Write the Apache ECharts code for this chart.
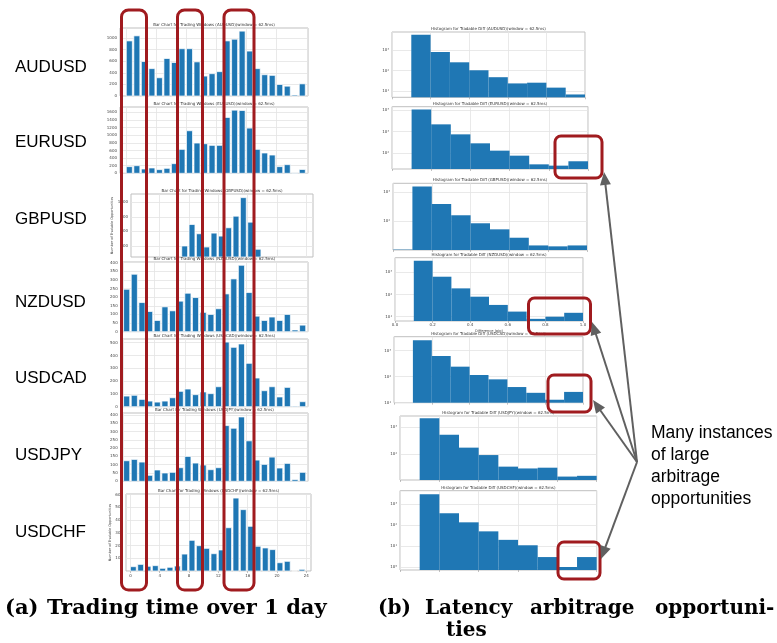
<!DOCTYPE html>
<html>
<head>
<meta charset="utf-8">
<script src="https://cdn.jsdelivr.net/npm/echarts@6/dist/echarts.min.js"></script>
<style>
  html, body { margin: 0; padding: 0; background: #ffffff; }
  #chart { width: 777px; height: 643px; }
</style>
</head>
<body>
<div id="chart"></div>
<script>
// ---- data ---------------------------------------------------------------
const PAIRS = ['AUDUSD', 'EURUSD', 'GBPUSD', 'NZDUSD', 'USDCAD', 'USDJPY', 'USDCHF'];
const HOURS = [0, 1, 2, 3, 4, 5, 6, 7, 8, 9, 10, 11, 12, 13, 14, 15, 16, 17, 18, 19, 20, 21, 22, 23];
const HOUR_TICKS = [0, 4, 8, 12, 16, 20, 24];

// tradable windows per hour of the day
const AUDUSD_HOURLY = [948, 1035, 593, 471, 314, 645, 576, 814, 814, 587, 343, 384, 419, 948, 977, 1116, 773, 471, 366, 355, 198, 169, 17, 209];
const EURUSD_HOURLY = [175, 200, 113, 140, 96, 131, 253, 629, 1118, 795, 777, 734, 734, 1467, 1659, 1650, 1188, 629, 533, 480, 175, 227, 10, 100];
const GBPUSD_HOURLY = [null, null, null, null, null, null, null, 400, 695, 568, 386, 577, 536, 650, 809, 1064, 727, 355, null, null, null, null, null, null];
const NZDUSD_HOURLY = [246, 333, 169, 117, 65, 144, 121, 177, 223, 198, 112, 100, 133, 219, 306, 385, 227, 90, 65, 85, 65, 100, 10, 38];
const USDCAD_HOURLY = [83, 89, 57, 44, 36, 44, 70, 120, 138, 94, 115, 102, 156, 505, 464, 490, 339, 224, 125, 156, 76, 151, 5, 39];
const USDJPY_HOURLY = [124, 132, 116, 36, 68, 50, 54, 82, 150, 110, 98, 70, 82, 336, 320, 388, 244, 128, 102, 146, 80, 108, 10, 54];
const USDCHF_HOURLY = [34, 52, 37, 42, 21, 29, 39, 133, 241, 199, 178, 136, 165, 340, 573, 482, 351, 194, 181, 168, 65, 76, 0, 13];

// histogram of tradable price differences (pip), bins of 0.1
const BIN_EDGES = [0.0, 0.1, 0.2, 0.3, 0.4, 0.5, 0.6, 0.7, 0.8, 0.9, 1.0];
const AUDUSD_DIFF = [null, 5520, 800, 253, 104, 48, 24, 26, 15, 7];
const EURUSD_DIFF = [null, 10700, 2180, 753, 290, 133, 78, 31, 27, 43];
const GBPUSD_DIFF = [10, 1580, 392, 158, 83, 51, 26, 14, 13, 14];
const NZDUSD_DIFF = [null, 3360, 638, 190, 80, 34, 17, 8, 10, 15];
const USDCAD_DIFF = [null, 2500, 624, 243, 116, 79, 40, 24, 13, 26];
const USDJPY_DIFF = [null, 2150, 535, 177, 94, 35, 30, 32, 15, 16];
const USDCHF_DIFF = [null, 3010, 371, 138, 51, 20, 11, 3, 1, 3];

// ---- layout & style -----------------------------------------------------
const BLUE = '#1f77b4';
const FRAME = '#bfbfbf';
const GRIDLINE = '#e3e3e3';
const RED = '#a01b1f';
const ARROW = '#606060';
const TINY = 'DejaVu Sans';
const BAR_W = 0.8;

const BAR_PANELS = [
  { pair: 'AUDUSD', values: AUDUSD_HOURLY, box: [120, 28, 308, 96], x: [-0.84, 24.16], y: [0, 1170], ticks: [0, 200, 400, 600, 800, 1000] },
  { pair: 'EURUSD', values: EURUSD_HOURLY, box: [120, 107, 308, 173.3], x: [-0.84, 24.16], y: [0, 1742], ticks: [0, 200, 400, 600, 800, 1000, 1200, 1400, 1600] },
  { pair: 'GBPUSD', values: GBPUSD_HOURLY, box: [131, 194, 313, 257], x: [0.08, 24.9], y: [249, 1114], ticks: [400, 600, 800, 1000], yName: true },
  { pair: 'NZDUSD', values: NZDUSD_HOURLY, box: [120.7, 262, 308, 331.7], x: [-0.38, 24.1], y: [0, 404], ticks: [0, 50, 100, 150, 200, 250, 300, 350, 400] },
  { pair: 'USDCAD', values: USDCAD_HOURLY, box: [120.7, 339, 308, 406.7], x: [-0.38, 24.1], y: [0, 529], ticks: [0, 100, 200, 300, 400, 500] },
  { pair: 'USDJPY', values: USDJPY_HOURLY, box: [120.7, 413, 308, 481.3], x: [-0.38, 24.1], y: [0, 412], ticks: [0, 50, 100, 150, 200, 250, 300, 350, 400] },
  { pair: 'USDCHF', values: USDCHF_HOURLY, box: [126, 494, 311, 571], x: [-0.6, 24.64], y: [0, 605], ticks: [0, 100, 200, 300, 400, 500, 600], yName: true, xLabels: true }
];

const HIST_PANELS = [
  { pair: 'AUDUSD', counts: AUDUSD_DIFF, box: [392, 32, 585, 97.3], y: [5.1, 7430], ticks: [10, 100, 1000] },
  { pair: 'EURUSD', counts: EURUSD_DIFF, box: [392, 106.7, 588, 169], y: [18.9, 14250], ticks: [100, 1000, 10000] },
  { pair: 'GBPUSD', counts: GBPUSD_DIFF, box: [393, 183.3, 587, 250], y: [9.7, 2060], ticks: [100, 1000] },
  { pair: 'NZDUSD', counts: NZDUSD_DIFF, box: [395, 257.7, 583, 321], y: [6.4, 4600], ticks: [10, 100, 1000], xLabels: true },
  { pair: 'USDCAD', counts: USDCAD_DIFF, box: [394, 336.7, 583, 402.7], y: [10, 3450], ticks: [10, 100, 1000] },
  { pair: 'USDJPY', counts: USDJPY_DIFF, box: [400, 416, 596.7, 480], y: [11.2, 2630], ticks: [100, 1000] },
  { pair: 'USDCHF', counts: USDCHF_DIFF, box: [400, 490.7, 596.7, 570], y: [0.72, 4510], ticks: [1, 10, 100, 1000] }
];

const ROW_LABEL_Y = [67, 142, 219, 302, 378, 455, 532];

// ---- helpers ------------------------------------------------------------
const SUP = { '-': '\u207b', '0': '\u2070', '1': '\u00b9', '2': '\u00b2', '3': '\u00b3', '4': '\u2074', '5': '\u2075' };
function powerLabel(v) {
  const e = String(Math.round(Math.log10(v)));
  return '10' + e.split('').map(c => SUP[c]).join('');
}

function gridOf(box) {
  return {
    left: box[0], top: box[1], width: box[2] - box[0], height: box[3] - box[1],
    show: true, borderColor: FRAME, borderWidth: 1, backgroundColor: '#ffffff',
    containLabel: false, outerBoundsMode: 'none'
  };
}

// hourly bar: left edge at the hour, width BAR_W, clipped to the plot
function renderHourBar(params, api) {
  const h = api.value(0);
  const v = api.value(1);
  const topLeft = api.coord([h, v]);
  const bottomRight = api.coord([h + BAR_W, 0]);
  const cs = params.coordSys;
  const shape = echarts.graphic.clipRectByRect(
    { x: topLeft[0], y: topLeft[1], width: bottomRight[0] - topLeft[0], height: bottomRight[1] - topLeft[1] },
    { x: cs.x, y: cs.y, width: cs.width, height: cs.height }
  );
  if (!shape) return null;
  return { type: 'rect', shape: shape, style: { fill: BLUE, stroke: '#ffffff', lineWidth: 0.7 } };
}

// histogram bin from its two edges down to the bottom of the plot
function renderBin(params, api) {
  const lo = api.value(0);
  const hi = api.value(1);
  const n = api.value(2);
  const cs = params.coordSys;
  const a = api.coord([lo, n]);
  const b = api.coord([hi, n]);
  const bottom = cs.y + cs.height;
  return { type: 'rect', shape: { x: a[0], y: a[1], width: b[0] - a[0], height: bottom - a[1] }, style: { fill: BLUE } };
}

function tinyText(text, x, y, size, align) {
  return {
    type: 'text', z: 50, x: x, y: y,
    style: { text: text, font: size + 'px "' + TINY + '"', fill: '#333333', align: align || 'center', textAlign: align || 'center', verticalAlign: 'middle', textVerticalAlign: 'middle' }
  };
}

function bigText(text, x, y, font, align) {
  return {
    type: 'text', z: 60, x: x, y: y,
    style: { text: text, font: font, fill: '#000000', align: align || 'left', textAlign: align || 'left', verticalAlign: 'middle', textVerticalAlign: 'middle' }
  };
}

function redBox(x, y, w, h, r) {
  return { type: 'rect', z: 80, shape: { x: x, y: y, width: w, height: h, r: r }, style: { fill: 'none', stroke: RED, lineWidth: 3 } };
}

function arrow(from, to) {
  const dx = to[0] - from[0], dy = to[1] - from[1];
  const len = Math.hypot(dx, dy);
  const ux = dx / len, uy = dy / len;
  const headL = 13, headW = 5.5;
  const bx = to[0] - ux * headL, by = to[1] - uy * headL;
  return [
    { type: 'line', z: 90, shape: { x1: from[0], y1: from[1], x2: bx + ux * 2, y2: by + uy * 2 }, style: { stroke: ARROW, lineWidth: 2 } },
    { type: 'polygon', z: 90, shape: { points: [[to[0], to[1]], [bx - uy * headW, by + ux * headW], [bx + uy * headW, by - ux * headW]] }, style: { fill: ARROW } }
  ];
}

const plainNumber = v => String(v);

// ---- option -------------------------------------------------------------
const option = { animation: false, grid: [], xAxis: [], yAxis: [], series: [], graphic: [] };
const graphics = [];

BAR_PANELS.forEach((p, i) => {
  option.grid.push(gridOf(p.box));
  option.xAxis.push({
    type: 'value', gridIndex: i, min: p.x[0], max: p.x[1],
    axisLine: { show: false },
    axisTick: { show: !!p.xLabels, customValues: HOUR_TICKS, length: 2, lineStyle: { color: '#999999', width: 0.6 } },
    axisLabel: { show: !!p.xLabels, customValues: HOUR_TICKS, fontSize: 4, fontFamily: TINY, color: '#444444', margin: 3, formatter: plainNumber },
    splitLine: { show: true, lineStyle: { color: GRIDLINE, width: 0.8 } }
  });
  option.yAxis.push({
    type: 'value', gridIndex: i, min: p.y[0], max: p.y[1],
    axisLine: { show: false },
    axisTick: { show: false, customValues: p.ticks },
    axisLabel: { customValues: p.ticks, fontSize: 4, fontFamily: TINY, color: '#444444', margin: 3, formatter: plainNumber },
    splitLine: { show: true, lineStyle: { color: GRIDLINE, width: 0.8 } },
    name: p.yName ? 'Number of Tradable Opportunities' : '',
    nameLocation: 'middle', nameGap: 13,
    nameTextStyle: { fontSize: 3.4, fontFamily: TINY, color: '#444444' }
  });
  option.series.push({
    type: 'custom', xAxisIndex: i, yAxisIndex: i,
    renderItem: renderHourBar,
    encode: { x: 0, y: 1 },
    data: HOURS.map((h, k) => [h, p.values[k]]).filter(d => d[1] != null)
  });
  graphics.push(tinyText('Bar Chart for Trading Windows (' + p.pair + ')(window = 62.5ms)', (p.box[0] + p.box[2]) / 2, p.box[1] - 3, 4));
});

HIST_PANELS.forEach((p, j) => {
  const i = BAR_PANELS.length + j;
  option.grid.push(gridOf(p.box));
  option.xAxis.push({
    type: 'value', gridIndex: i, min: 0, max: 1, interval: 0.2,
    axisLine: { show: false },
    axisTick: { show: true, length: 2, lineStyle: { color: '#999999', width: 0.6 } },
    axisLabel: { show: !!p.xLabels, fontSize: 4, fontFamily: TINY, color: '#444444', margin: 2, formatter: v => v.toFixed(1) },
    splitLine: { show: true, lineStyle: { color: GRIDLINE, width: 0.8 } },
    name: p.xLabels ? 'Difference (pip)' : '',
    nameLocation: 'middle', nameGap: 8,
    nameTextStyle: { fontSize: 3.6, fontFamily: TINY, color: '#444444' }
  });
  option.yAxis.push({
    type: 'log', logBase: 10, gridIndex: i, min: p.y[0], max: p.y[1],
    axisLine: { show: false },
    axisTick: { show: false, customValues: p.ticks },
    axisLabel: { customValues: p.ticks, fontSize: 4, fontFamily: TINY, color: '#444444', margin: 3, formatter: powerLabel },
    splitLine: { show: true, lineStyle: { color: GRIDLINE, width: 0.8 } }
  });
  option.series.push({
    type: 'custom', xAxisIndex: i, yAxisIndex: i,
    renderItem: renderBin,
    encode: { x: [0, 1], y: 2 },
    data: p.counts.map((n, k) => [BIN_EDGES[k], BIN_EDGES[k + 1], n]).filter(d => d[2] != null)
  });
  graphics.push(tinyText('Histogram for Tradable Diff (' + p.pair + ')(window = 62.5ms)', (p.box[0] + p.box[2]) / 2, p.box[1] - 3, 4));
});

// currency pair names beside each row
PAIRS.forEach((pair, k) => {
  graphics.push(bigText(pair, 15, ROW_LABEL_Y[k], '17px "Liberation Sans"'));
});

// highlighted hours on the left
graphics.push(redBox(121.5, 10, 25, 580, 7));
graphics.push(redBox(177.5, 10, 25, 580, 7));
graphics.push(redBox(224, 10, 30, 580, 7));

// highlighted tail bins on the right
graphics.push(redBox(555, 136, 47, 42, 6));
graphics.push(redBox(528.5, 298, 62, 36, 6));
graphics.push(redBox(548, 375, 43, 37, 6));
graphics.push(redBox(558, 542, 42, 37, 6));

// callout arrows
const ORIGIN = [637, 462];
[[604, 172], [592, 322], [593, 400], [601, 559]].forEach(t => arrow(ORIGIN, t).forEach(g => graphics.push(g)));

// callout text
['Many instances', 'of large', 'arbitrage', 'opportunities'].forEach((line, k) => {
  graphics.push(bigText(line, 651, 433 + k * 22, '17.5px "Liberation Sans"'));
});

// sub-captions
graphics.push(bigText('(a)', 5, 609, 'bold 21px "DejaVu Serif"'));
graphics.push(bigText('Trading time over 1 day', 47, 609, 'bold 21px "DejaVu Serif"'));
// (b) is a justified line that wraps
const CAP_B = 'bold 20px "DejaVu Serif"';
[['(b)', 378], ['Latency', 425], ['arbitrage', 530], ['opportuni-', 655]].forEach(w => {
  graphics.push(bigText(w[0], w[1], 609, CAP_B));
});
graphics.push(bigText('ties', 446, 631, CAP_B));

option.graphic = { elements: graphics };

const chart = echarts.init(document.getElementById('chart'), null, { renderer: 'canvas', width: 777, height: 643 });
chart.setOption(option);
</script>
</body>
</html>
